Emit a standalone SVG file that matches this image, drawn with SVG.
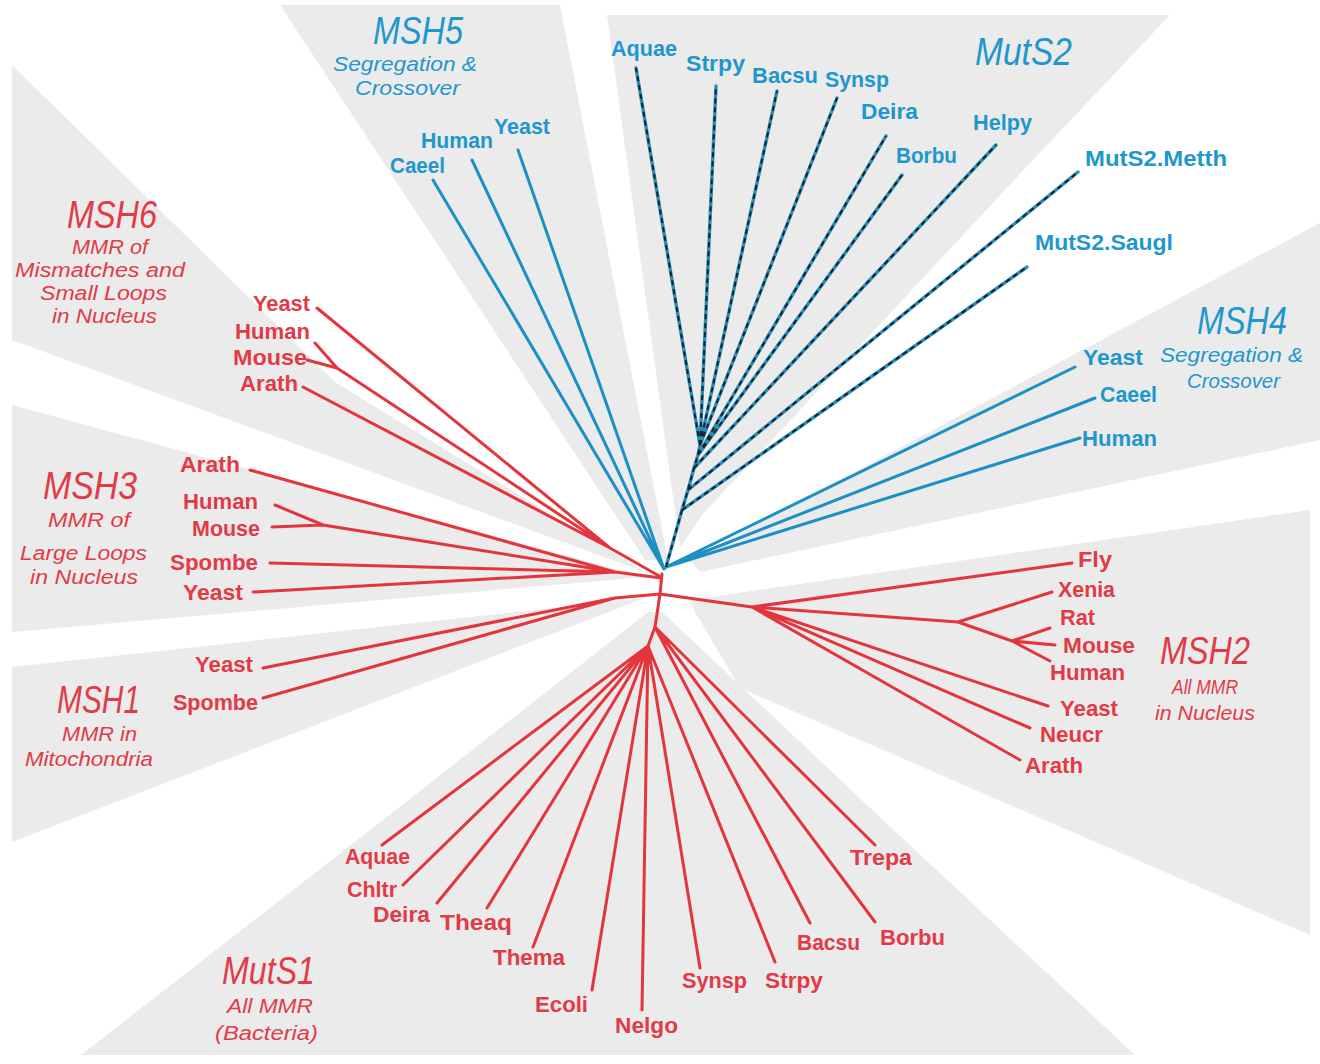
<svg xmlns="http://www.w3.org/2000/svg" width="1320" height="1064" viewBox="0 0 1320 1064">
<defs>
<style>
.w{fill:#ebebeb;stroke:none}
.r{stroke:#e3353c;stroke-width:3;fill:none;stroke-linecap:round;stroke-linejoin:round}
.b{stroke:#1c90c4;stroke-width:3;fill:none;stroke-linecap:round;stroke-linejoin:round}
.bd{stroke:#2a8db8;stroke-width:3.4;fill:none;stroke-linecap:round}
.dd{stroke:#16222e;stroke-width:2;fill:none;stroke-dasharray:5 4}
text{font-family:"Liberation Sans",Arial,sans-serif}
.lb{font-size:22px;font-weight:bold}
.tt{font-size:38px;font-style:italic}
.st{font-size:20px;font-style:italic}
.R{fill:#e13b48}
.B{fill:#1f97cd}
</style>
</defs>
<rect width="1320" height="1064" fill="#ffffff"/>
<g id="sectors">
<polygon class="w" points="12,65 335,382 645,572 12,340"/>
<polygon class="w" points="12,405 645,577 12,632"/>
<polygon class="w" points="12,667 645,598 12,842"/>
<polygon class="w" points="648,612 383,820 81,1055 1135,1055 883,820 662,612"/>
<polygon class="w" points="690,600 1310,510 1310,935 740,688 695,612"/>
<polygon class="w" points="690,560 1320,223 1320,440 700,572"/>
<polygon class="w" points="607,15 1170,15 1033,160 702,515 680,548"/>
<polygon class="w" points="280,5 560,5 668,560 645,560"/>
</g>
<g id="connectors">
<path class="r" d="M662,574 L660,594 L655,627 L648,646"/>
<path class="r" d="M661,577 L610,548 M610,548 L317,308 M610,548 L337,368 M337,368 L315,343 M337,368 L307,360 M610,548 L303,387"/>
<path class="r" d="M661,578 L615,572 M615,572 L250,470 M615,572 L323,525 M323,525 L275,505 M323,525 L272,527 M615,572 L270,563 M615,572 L253,592"/>
<path class="r" d="M660,594 L615,598 M615,598 L263,668 M615,598 L263,698"/>
<path class="r" d="M660,594 L752,607 M752,607 L1072,563 M752,607 L958,622 M958,622 L1052,592 M958,622 L1012,641 M1012,641 L1050,628 M1012,641 L1055,645 M1012,641 L1050,661 M752,607 L1048,706 M752,607 L1030,728 M752,607 L1020,760"/>
<path class="r" d="M648,646 L382,845 M648,646 L403,885 M648,646 L437,903 M648,646 L487,908 M648,646 L533,947 M648,646 L592,990 M648,646 L642,1010 M648,646 L700,968 M648,646 L775,962 M655,627 L810,923 M655,627 L875,922 M655,627 L875,845"/>
<path class="b" d="M664,569 L433,180 M664,569 L472,160 M664,569 L518,150"/>
<path class="b" d="M666,567 L1075,367 M666,567 L1095,398 M666,567 L1080,438"/>
<path class="bd" d="M666,567 L682,510 L688,490 L694,468 L698,455 L700,445 M700,445 L636,68 M700,445 L716,86 M700,445 L777,91 M700,445 L837,98 M698,455 L886,136 M698,455 L902,175 M694,468 L996,145 M688,490 L1078,172 M682,510 L1027,267"/>
<path class="dd" d="M666,567 L682,510 L688,490 L694,468 L698,455 L700,445 M700,445 L636,68 M700,445 L716,86 M700,445 L777,91 M700,445 L837,98 M698,455 L886,136 M698,455 L902,175 M694,468 L996,145 M688,490 L1078,172 M682,510 L1027,267"/>
</g>
<g id="title-MSH5" class="B">
<text class="tt" x="373" y="44" textLength="90" lengthAdjust="spacingAndGlyphs">MSH5</text>
<text class="st" x="333" y="71" textLength="144" lengthAdjust="spacingAndGlyphs">Segregation &amp;</text>
<text class="st" x="355" y="95" textLength="105" lengthAdjust="spacingAndGlyphs">Crossover</text>
</g>
<g id="title-MutS2" class="B">
<text class="tt" x="975" y="65" textLength="97" lengthAdjust="spacingAndGlyphs">MutS2</text>
</g>
<g id="title-MSH4" class="B">
<text class="tt" x="1197" y="334" textLength="90" lengthAdjust="spacingAndGlyphs">MSH4</text>
<text class="st" x="1160" y="362" textLength="143" lengthAdjust="spacingAndGlyphs">Segregation &amp;</text>
<text class="st" x="1187" y="388" textLength="93" lengthAdjust="spacingAndGlyphs">Crossover</text>
</g>
<g id="title-MSH6" class="R">
<text class="tt" x="67" y="228" textLength="90" lengthAdjust="spacingAndGlyphs">MSH6</text>
<text class="st" x="72" y="254" textLength="76" lengthAdjust="spacingAndGlyphs">MMR of</text>
<text class="st" x="15" y="277" textLength="170" lengthAdjust="spacingAndGlyphs">Mismatches and</text>
<text class="st" x="40" y="300" textLength="127" lengthAdjust="spacingAndGlyphs">Small Loops</text>
<text class="st" x="52" y="323" textLength="105" lengthAdjust="spacingAndGlyphs">in Nucleus</text>
</g>
<g id="title-MSH3" class="R">
<text class="tt" x="43" y="499" textLength="94" lengthAdjust="spacingAndGlyphs">MSH3</text>
<text class="st" x="48" y="527" textLength="82" lengthAdjust="spacingAndGlyphs">MMR of</text>
<text class="st" x="20" y="560" textLength="127" lengthAdjust="spacingAndGlyphs">Large Loops</text>
<text class="st" x="30" y="584" textLength="108" lengthAdjust="spacingAndGlyphs">in Nucleus</text>
</g>
<g id="title-MSH1" class="R">
<text class="tt" x="57" y="713" textLength="83" lengthAdjust="spacingAndGlyphs">MSH1</text>
<text class="st" x="62" y="741" textLength="75" lengthAdjust="spacingAndGlyphs">MMR in</text>
<text class="st" x="25" y="766" textLength="128" lengthAdjust="spacingAndGlyphs">Mitochondria</text>
</g>
<g id="title-MSH2" class="R">
<text class="tt" x="1160" y="664" textLength="90" lengthAdjust="spacingAndGlyphs">MSH2</text>
<text class="st" x="1172" y="694" textLength="66" lengthAdjust="spacingAndGlyphs">All MMR</text>
<text class="st" x="1155" y="720" textLength="100" lengthAdjust="spacingAndGlyphs">in Nucleus</text>
</g>
<g id="title-MutS1" class="R">
<text class="tt" x="222" y="984" textLength="93" lengthAdjust="spacingAndGlyphs">MutS1</text>
<text class="st" x="227" y="1013" textLength="86" lengthAdjust="spacingAndGlyphs">All MMR</text>
<text class="st" x="215" y="1040" textLength="103" lengthAdjust="spacingAndGlyphs">(Bacteria)</text>
</g>
<g id="msh5-caeel"><text class="lb B" x="390" y="173" textLength="55" lengthAdjust="spacingAndGlyphs">Caeel</text></g>
<g id="msh5-human"><text class="lb B" x="421" y="148" textLength="72" lengthAdjust="spacingAndGlyphs">Human</text></g>
<g id="msh5-yeast"><text class="lb B" x="494" y="134" textLength="56" lengthAdjust="spacingAndGlyphs">Yeast</text></g>
<g id="muts2-aquae"><text class="lb B" x="611" y="56" textLength="66" lengthAdjust="spacingAndGlyphs">Aquae</text></g>
<g id="muts2-strpy"><text class="lb B" x="686" y="71" textLength="59" lengthAdjust="spacingAndGlyphs">Strpy</text></g>
<g id="muts2-bacsu"><text class="lb B" x="752" y="83" textLength="66" lengthAdjust="spacingAndGlyphs">Bacsu</text></g>
<g id="muts2-synsp"><text class="lb B" x="825" y="87" textLength="64" lengthAdjust="spacingAndGlyphs">Synsp</text></g>
<g id="muts2-deira"><text class="lb B" x="861" y="119" textLength="57" lengthAdjust="spacingAndGlyphs">Deira</text></g>
<g id="muts2-borbu"><text class="lb B" x="896" y="163" textLength="61" lengthAdjust="spacingAndGlyphs">Borbu</text></g>
<g id="muts2-helpy"><text class="lb B" x="973" y="130" textLength="59" lengthAdjust="spacingAndGlyphs">Helpy</text></g>
<g id="muts2-metth"><text class="lb B" x="1085" y="166" textLength="142" lengthAdjust="spacingAndGlyphs">MutS2.Metth</text></g>
<g id="muts2-saugl"><text class="lb B" x="1035" y="250" textLength="138" lengthAdjust="spacingAndGlyphs">MutS2.Saugl</text></g>
<g id="msh4-yeast"><text class="lb B" x="1083" y="365" textLength="60" lengthAdjust="spacingAndGlyphs">Yeast</text></g>
<g id="msh4-caeel"><text class="lb B" x="1100" y="402" textLength="57" lengthAdjust="spacingAndGlyphs">Caeel</text></g>
<g id="msh4-human"><text class="lb B" x="1082" y="446" textLength="75" lengthAdjust="spacingAndGlyphs">Human</text></g>
<g id="msh6-yeast"><text class="lb R" x="253" y="311" textLength="57" lengthAdjust="spacingAndGlyphs">Yeast</text></g>
<g id="msh6-human"><text class="lb R" x="235" y="339" textLength="75" lengthAdjust="spacingAndGlyphs">Human</text></g>
<g id="msh6-mouse"><text class="lb R" x="233" y="365" textLength="74" lengthAdjust="spacingAndGlyphs">Mouse</text></g>
<g id="msh6-arath"><text class="lb R" x="240" y="391" textLength="58" lengthAdjust="spacingAndGlyphs">Arath</text></g>
<g id="msh3-arath"><text class="lb R" x="180" y="472" textLength="60" lengthAdjust="spacingAndGlyphs">Arath</text></g>
<g id="msh3-human"><text class="lb R" x="183" y="509" textLength="75" lengthAdjust="spacingAndGlyphs">Human</text></g>
<g id="msh3-mouse"><text class="lb R" x="192" y="536" textLength="68" lengthAdjust="spacingAndGlyphs">Mouse</text></g>
<g id="msh3-spombe"><text class="lb R" x="170" y="570" textLength="88" lengthAdjust="spacingAndGlyphs">Spombe</text></g>
<g id="msh3-yeast"><text class="lb R" x="183" y="600" textLength="60" lengthAdjust="spacingAndGlyphs">Yeast</text></g>
<g id="msh1-yeast"><text class="lb R" x="195" y="672" textLength="58" lengthAdjust="spacingAndGlyphs">Yeast</text></g>
<g id="msh1-spombe"><text class="lb R" x="173" y="710" textLength="85" lengthAdjust="spacingAndGlyphs">Spombe</text></g>
<g id="msh2-fly"><text class="lb R" x="1078" y="567" textLength="34" lengthAdjust="spacingAndGlyphs">Fly</text></g>
<g id="msh2-xenia"><text class="lb R" x="1058" y="597" textLength="57" lengthAdjust="spacingAndGlyphs">Xenia</text></g>
<g id="msh2-rat"><text class="lb R" x="1060" y="625" textLength="35" lengthAdjust="spacingAndGlyphs">Rat</text></g>
<g id="msh2-mouse"><text class="lb R" x="1063" y="653" textLength="72" lengthAdjust="spacingAndGlyphs">Mouse</text></g>
<g id="msh2-human"><text class="lb R" x="1050" y="680" textLength="75" lengthAdjust="spacingAndGlyphs">Human</text></g>
<g id="msh2-yeast"><text class="lb R" x="1060" y="716" textLength="58" lengthAdjust="spacingAndGlyphs">Yeast</text></g>
<g id="msh2-neucr"><text class="lb R" x="1040" y="742" textLength="63" lengthAdjust="spacingAndGlyphs">Neucr</text></g>
<g id="msh2-arath"><text class="lb R" x="1025" y="773" textLength="58" lengthAdjust="spacingAndGlyphs">Arath</text></g>
<g id="muts1-aquae"><text class="lb R" x="345" y="864" textLength="65" lengthAdjust="spacingAndGlyphs">Aquae</text></g>
<g id="muts1-chltr"><text class="lb R" x="347" y="897" textLength="50" lengthAdjust="spacingAndGlyphs">Chltr</text></g>
<g id="muts1-deira"><text class="lb R" x="373" y="922" textLength="57" lengthAdjust="spacingAndGlyphs">Deira</text></g>
<g id="muts1-theaq"><text class="lb R" x="440" y="930" textLength="72" lengthAdjust="spacingAndGlyphs">Theaq</text></g>
<g id="muts1-thema"><text class="lb R" x="493" y="965" textLength="72" lengthAdjust="spacingAndGlyphs">Thema</text></g>
<g id="muts1-ecoli"><text class="lb R" x="535" y="1012" textLength="53" lengthAdjust="spacingAndGlyphs">Ecoli</text></g>
<g id="muts1-nelgo"><text class="lb R" x="615" y="1033" textLength="63" lengthAdjust="spacingAndGlyphs">Nelgo</text></g>
<g id="muts1-synsp"><text class="lb R" x="682" y="988" textLength="65" lengthAdjust="spacingAndGlyphs">Synsp</text></g>
<g id="muts1-strpy"><text class="lb R" x="765" y="988" textLength="58" lengthAdjust="spacingAndGlyphs">Strpy</text></g>
<g id="muts1-bacsu"><text class="lb R" x="797" y="950" textLength="63" lengthAdjust="spacingAndGlyphs">Bacsu</text></g>
<g id="muts1-borbu"><text class="lb R" x="880" y="945" textLength="65" lengthAdjust="spacingAndGlyphs">Borbu</text></g>
<g id="muts1-trepa"><text class="lb R" x="850" y="865" textLength="62" lengthAdjust="spacingAndGlyphs">Trepa</text></g>
</svg>
